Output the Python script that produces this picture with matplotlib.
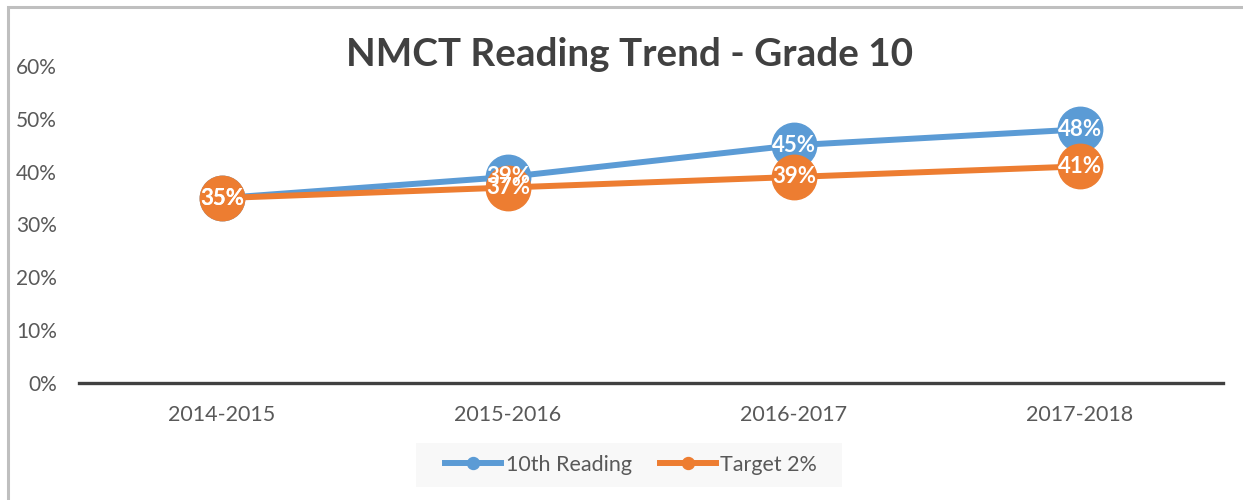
import matplotlib
matplotlib.use("Agg")
import matplotlib.pyplot as plt
from matplotlib.lines import Line2D
from matplotlib.patches import Rectangle

categories = ["2014-2015", "2015-2016", "2016-2017", "2017-2018"]
reading = [0.35, 0.39, 0.45, 0.48]
target = [0.35, 0.37, 0.39, 0.41]
series_names = ["10th Reading", "Target 2%"]
yticks = [0, 0.1, 0.2, 0.3, 0.4, 0.5, 0.6]
title = "NMCT Reading Trend - Grade 10"

BLUE = "#5B9BD5"
ORANGE = "#ED7D31"
TXT = "#595959"

plt.rcParams['font.family'] = ['Lato', 'DejaVu Sans']

W, H = 1243, 500
fig = plt.figure(figsize=(W / 100, H / 100), dpi=100)
fig.patch.set_facecolor("white")

# chart border
fig.add_artist(Rectangle((8 / W, -0.1), 1.2, (1 - 6.5 / H) + 0.1, transform=fig.transFigure,
                         fill=False, edgecolor="#BFBFBF", linewidth=2.2))

ax = fig.add_axes([79 / W, 1 - 383 / H, (1223 - 79) / W, (383 - 66) / H])
x = list(range(len(categories)))

for vals, col, name in [(reading, BLUE, series_names[0]), (target, ORANGE, series_names[1])]:
    ax.plot(x, vals, color=col, linewidth=4.3, marker="o", markersize=32,
            markeredgecolor=col, solid_capstyle="round", zorder=3, clip_on=False)

for vals in (reading, target):
    for xi, v in zip(x, vals):
        ax.text(xi, v, f"{round(v * 100)}%", ha="center", va="center", color="white",
                fontsize=16, fontweight="bold", zorder=5)

ax.set_xlim(-0.5, len(categories) - 0.5)
ax.set_ylim(0, 0.6)
ax.set_yticks(yticks)
ax.set_yticklabels([f"{round(t * 100)}%" for t in yticks])
ax.set_xticks(x)
ax.set_xticklabels(categories)
ax.tick_params(axis="y", length=0, labelsize=15, labelcolor=TXT, pad=16)
ax.tick_params(axis="x", length=0, labelsize=15.5, labelcolor=TXT, pad=16)
for s in ["top", "right", "left"]:
    ax.spines[s].set_visible(False)
ax.spines["bottom"].set_color("#404040")
ax.spines["bottom"].set_linewidth(2.4)
ax.spines["bottom"].set_zorder(2)

fig.text(630 / W, 1 - 55 / H, title, ha="center", va="center", fontsize=27.8,
         fontweight="bold", color="#404040")

# legend background
fig.add_artist(Rectangle((416 / W, 1 - 487 / H), (842 - 416) / W, 44 / H,
                         transform=fig.transFigure, facecolor="#F8F8F8", edgecolor="none"))
handles = [Line2D([0], [0], color=BLUE, linewidth=4.3, marker="o", markersize=8.6),
           Line2D([0], [0], color=ORANGE, linewidth=4.3, marker="o", markersize=8.6)]
leg = fig.legend(handles, series_names, loc="center", bbox_to_anchor=(631 / W, 1 - 465 / H),
                 ncol=2, frameon=False, fontsize=15.5, handlelength=2.6, handletextpad=0.2,
                 columnspacing=1.3, borderpad=0.3, labelcolor=TXT)

fig.savefig("out.png", dpi=100, facecolor="white")
